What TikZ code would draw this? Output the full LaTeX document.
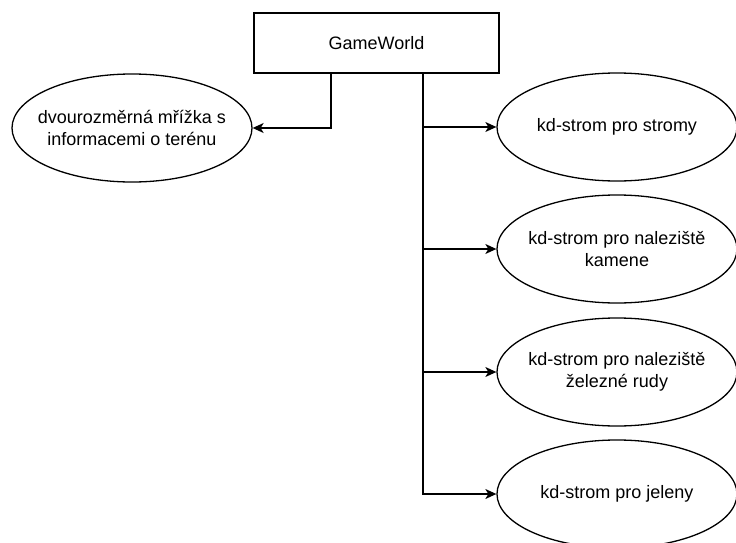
\documentclass[tikz,border=0pt]{standalone}
\usepackage{fontspec}
\setmainfont{Liberation Sans}
\usetikzlibrary{shapes.geometric,arrows.meta}
\begin{document}
\begin{tikzpicture}[x=1pt,y=-1pt,
  label font/.style={font=\fontsize{18}{21.6}\selectfont},
  box/.style={draw, line width=1.3pt, minimum width=245pt, minimum height=60pt,
    inner sep=0pt, label font},
  % negative x padding keeps every ellipse at its fixed 240 x 108 size
  oval/.style={draw, ellipse, line width=1.3pt, minimum width=240pt,
    minimum height=108pt, inner xsep=-50pt, inner ysep=0pt, align=center,
    label font},
  link/.style={line width=1.3pt, -{Stealth[length=11pt,width=10pt,inset=3pt]}}]
\useasboundingbox (0,0) rectangle (736,543);

% root class
\node[box] (gw) at (376.5,43) {GameWorld};

% terrain grid on the left
\node[oval] (grid) at (132,128) {dvourozměrná mřížka s\\informacemi o terénu};

% kd-trees on the right
\node[oval] (trees) at (617,127) {kd-strom pro stromy};
\node[oval] (stone) at (617,249) {kd-strom pro naleziště\\kamene};
\node[oval] (iron)  at (617,372) {kd-strom pro naleziště\\železné rudy};
\node[oval] (deer)  at (617,494) {kd-strom pro jeleny};

% exit points on the bottom edge of the root box
\coordinate (gwL) at (331,73);
\coordinate (gwR) at (423,73);

\draw[link] (gwL) |- (grid.east);
\draw[link] (gwR) |- (trees.west);
\draw[link] (gwR) |- (stone.west);
\draw[link] (gwR) |- (iron.west);
\draw[link] (gwR) |- (deer.west);
\end{tikzpicture}
\end{document}
